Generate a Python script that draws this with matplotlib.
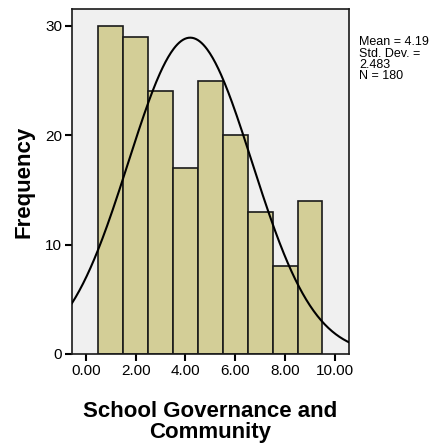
import numpy as np
from matplotlib import pyplot as plt

plt.rcParams['font.family'] = ['Liberation Sans', 'DejaVu Sans']

# histogram bins (centres, width 1) and counts
bin_centres = [1, 2, 3, 4, 5, 6, 7, 8, 9]
counts = [30, 29, 24, 17, 25, 20, 13, 8, 14]
x_ticks = [0, 2, 4, 6, 8, 10]
x_tick_labels = ["0.00", "2.00", "4.00", "6.00", "8.00", "10.00"]
y_ticks = [0, 10, 20, 30]

mean = 4.19
std_dev = 2.483
n = 180

fig = plt.figure(figsize=(4.36, 4.45), dpi=100)
ax = fig.add_axes([0.165, 0.2045, 0.635, 0.7755])
ax.set_facecolor('#f0f0f0')

ax.bar(bin_centres, counts, width=1.0, color='#d3ce97', edgecolor='#1a1a1a', linewidth=1.2, zorder=2)

# fitted normal curve (scaled by N * bin width)
xs = np.linspace(-0.56, 10.56, 300)
ys = n / (std_dev * np.sqrt(2 * np.pi)) * np.exp(-0.5 * ((xs - mean) / std_dev) ** 2)
ax.plot(xs, ys, color='black', linewidth=1.5, zorder=3)

ax.set_xlim(-0.56, 10.56)
ax.set_ylim(0, 31.55)
ax.set_xticks(x_ticks)
ax.set_xticklabels(x_tick_labels)
ax.set_yticks(y_ticks)
ax.tick_params(axis='both', direction='out', length=5, width=1.5, labelsize=11, pad=2)

for s in ax.spines.values():
    s.set_linewidth(1.2)
    s.set_color('#1a1a1a')

ax.set_xlabel("School Governance and\nCommunity", fontsize=16, fontweight='bold', linespacing=1.0, labelpad=17)
ax.set_ylabel("Frequency", fontsize=16, fontweight='bold', labelpad=8)

fig.text(0.823, 0.918, "Mean = 4.19\nStd. Dev. =\n2.483\nN = 180", fontsize=9, va='top', ha='left', linespacing=0.92)

fig.savefig("out.png", dpi=100)
